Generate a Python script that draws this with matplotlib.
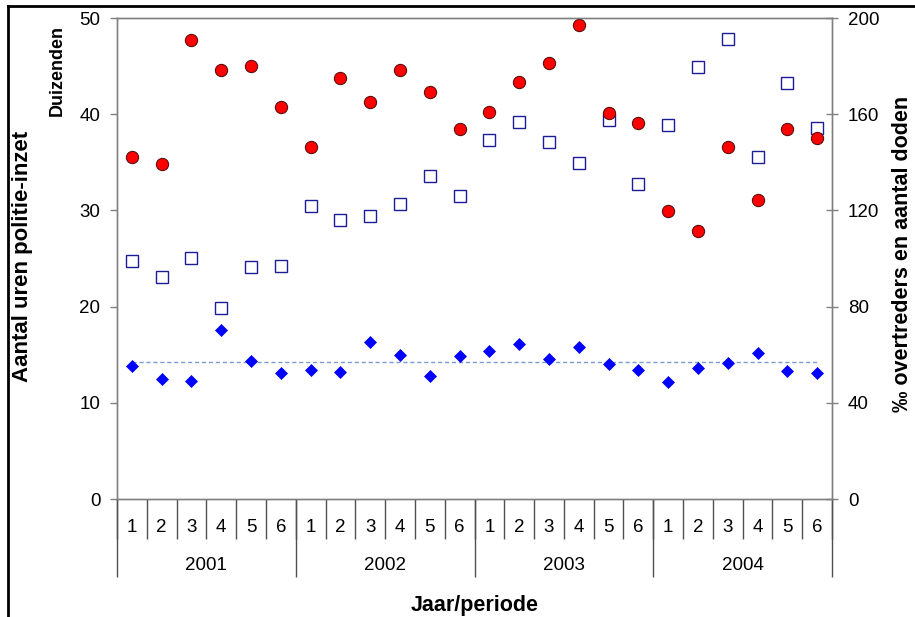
import numpy as np
import matplotlib
matplotlib.use('Agg')
import matplotlib.pyplot as plt
from matplotlib.lines import Line2D

plt.rcParams['font.family'] = ['Liberation Sans', 'DejaVu Sans']

# data
years = ['2001', '2002', '2003', '2004']
periods = ['1', '2', '3', '4', '5', '6']
# police hours, thousands (left axis)
uren = [35.6, 34.8, 47.7, 44.6, 45.0, 40.8,
        36.6, 43.8, 41.3, 44.6, 42.3, 38.5,
        40.2, 43.3, 45.3, 49.3, 40.1, 39.1,
        29.9, 27.9, 36.6, 31.1, 38.5, 37.5]
# promille offenders (right axis)
overtreders = [98.8, 92.4, 100.4, 79.6, 96.4, 96.8,
               122.0, 116.0, 117.6, 122.8, 134.2, 126.0,
               149.2, 156.8, 148.4, 139.6, 157.6, 130.8,
               155.6, 179.6, 191.2, 142.4, 172.8, 154.4]
# deaths (right axis)
doden = [55.2, 49.9, 49.0, 70.4, 57.3, 52.2,
         53.5, 52.6, 65.1, 60.0, 51.2, 59.6,
         61.4, 64.4, 58.2, 63.0, 56.1, 53.8,
         48.6, 54.3, 56.5, 60.8, 53.4, 52.5]
doden_gem = 56.9

W, H = 915, 617
L, R, T, B = 117, 832, 18, 499
grey = '#808080'

fig = plt.figure(figsize=(W / 100, H / 100), dpi=100)
ax = fig.add_axes([L / W, (H - B) / H, (R - L) / W, (B - T) / H])
ax2 = ax.twinx()
ax.set_zorder(ax2.get_zorder() + 1)
ax.patch.set_visible(False)

n = len(uren)
x = np.arange(n) + 0.5

ax2.plot([x[0], x[-1]], [doden_gem, doden_gem], ls=(0, (3, 2)), lw=1, color='#7A9CCF')
ax2.plot(x, doden, 'D', ms=6.5, color='#0000FF', mec='#0000FF', mew=0.5)
ax2.plot(x, overtreders, 's', ms=8.3, mfc='white', mec='#1C1C96', mew=1)
ax.plot(x, uren, 'o', ms=8.8, mfc='#FF0000', mec='#5A1010', mew=0.8)

ax.set_xlim(0, n)
ax.set_ylim(0, 50)
ax2.set_ylim(0, 200)
ax.set_yticks(range(0, 51, 10))
ax2.set_yticks(range(0, 201, 40))
ax.set_xticks([])
ax.tick_params(axis='y', direction='out', length=5, width=1, color=grey,
               labelsize=13.5, pad=7)
ax2.tick_params(axis='y', direction='inout', length=9, width=1, color=grey,
                labelsize=13.5, pad=7)
for a in (ax, ax2):
    for s in a.spines.values():
        s.set_color(grey)
        s.set_linewidth(1)

# category axis
ph = B - T
trans = ax.get_xaxis_transform()
ax.vlines(np.arange(n + 1), -40 / ph, 0, transform=trans, colors='#505050',
          lw=1, clip_on=False)
ax.vlines(np.arange(0, n + 1, 6), -78 / ph, 0, transform=trans, colors='#505050',
          lw=1, clip_on=False)
for i in range(n):
    ax.text(x[i], -29 / ph, periods[i % 6], transform=trans, ha='center',
            va='center', fontsize=13.5)
for j, yr in enumerate(years):
    ax.text(j * 6 + 3, -67 / ph, yr, transform=trans, ha='center',
            va='center', fontsize=13.5)

fig.text((L + R) / 2 / W, 1 - 605 / H, 'Jaar/periode', ha='center', va='center',
         fontsize=15.5, fontweight='bold')
fig.text(22.5 / W, 1 - 256 / H, 'Aantal uren politie-inzet', rotation=90,
         ha='center', va='center', fontsize=16, fontweight='bold')
fig.text(57.5 / W, 1 - 70 / H, 'Duizenden', rotation=90,
         ha='center', va='center', fontsize=13, fontweight='bold')
fig.text(903 / W, 1 - 254 / H, '‰ overtreders en aantal doden', rotation=90,
         ha='center', va='center', fontsize=15.5, fontweight='bold')

# outer frame (top and left edges)
fig.add_artist(Line2D([8 / W, 1], [1 - 6 / H, 1 - 6 / H], color='black', lw=2))
fig.add_artist(Line2D([8 / W, 8 / W], [0, 1 - 6 / H], color='black', lw=2))

fig.savefig('out.png', dpi=100)
